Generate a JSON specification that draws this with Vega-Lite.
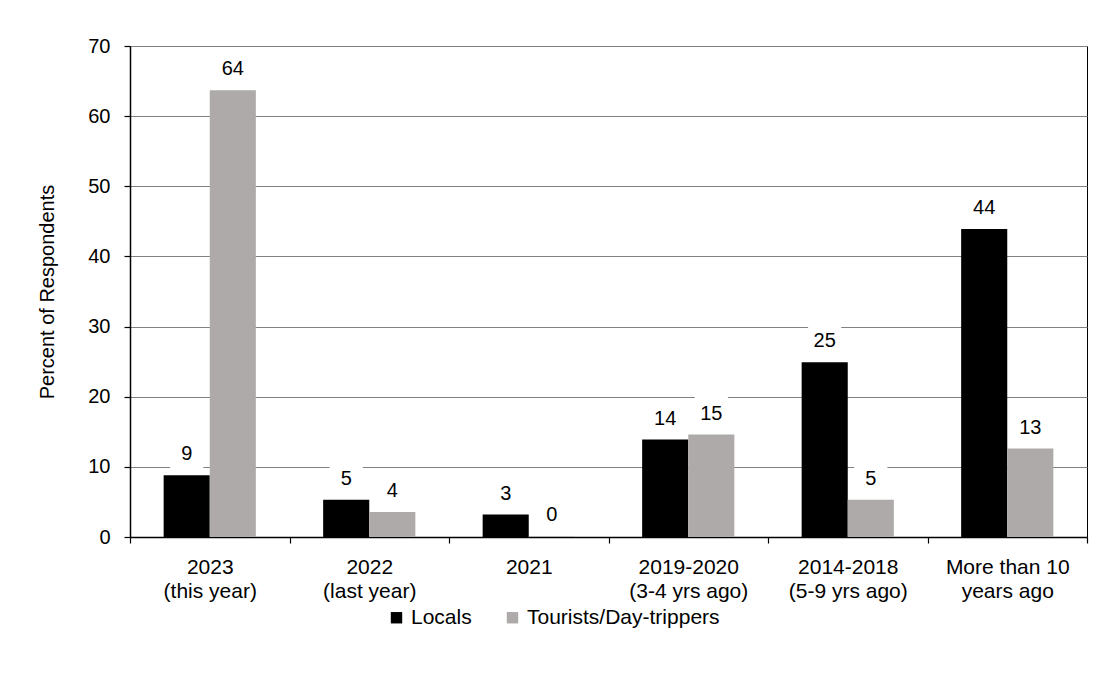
{
  "$schema": "https://vega.github.io/schema/vega-lite/v6.json",
  "autosize": {"type": "none"},
  "width": 957,
  "height": 491,
  "padding": {"left": 130, "top": 46, "right": 27, "bottom": 138},
  "background": "white",
  "config": {
    "font": "Liberation Sans",
    "view": {"stroke": "#000000", "strokeWidth": 1},
    "axis": {"labelColor": "#000000", "titleColor": "#000000", "domainColor": "#000000", "tickColor": "#000000", "domainWidth": 1.5, "tickWidth": 1.2}
  },
  "data": {
    "values": [
      {"period": "2023\n(this year)", "group": "Locals", "percent": 8.8},
      {"period": "2023\n(this year)", "group": "Tourists/Day-trippers", "percent": 63.7},
      {"period": "2022\n(last year)", "group": "Locals", "percent": 5.3},
      {"period": "2022\n(last year)", "group": "Tourists/Day-trippers", "percent": 3.55},
      {"period": "2021", "group": "Locals", "percent": 3.2},
      {"period": "2021", "group": "Tourists/Day-trippers", "percent": 0.1},
      {"period": "2019-2020\n(3-4 yrs ago)", "group": "Locals", "percent": 13.9},
      {"period": "2019-2020\n(3-4 yrs ago)", "group": "Tourists/Day-trippers", "percent": 14.6},
      {"period": "2014-2018\n(5-9 yrs ago)", "group": "Locals", "percent": 24.9},
      {"period": "2014-2018\n(5-9 yrs ago)", "group": "Tourists/Day-trippers", "percent": 5.3},
      {"period": "More than 10\nyears ago", "group": "Locals", "percent": 43.9},
      {"period": "More than 10\nyears ago", "group": "Tourists/Day-trippers", "percent": 12.6}
    ]
  },
  "encoding": {
    "x": {
      "field": "period",
      "type": "nominal",
      "sort": null,
      "scale": {"paddingInner": 0, "paddingOuter": 0},
      "axis": {
        "title": null,
        "labelAngle": 0,
        "tickBand": "extent",
        "labelExpr": "split(datum.label, '\\n')",
        "labelFontSize": 21,
        "labelLineHeight": 24,
        "labelPadding": 13,
        "labelBaseline": "top",
        "tickSize": 6,
        "grid": false
      }
    },
    "xOffset": {
      "field": "group",
      "type": "nominal",
      "sort": ["Locals", "Tourists/Day-trippers"],
      "scale": {"paddingInner": 0, "paddingOuter": 0.73}
    },
    "y": {
      "field": "percent",
      "type": "quantitative",
      "scale": {"domain": [0, 70], "nice": false},
      "axis": {
        "title": "Percent of Respondents",
        "titleFontSize": 20,
        "titleFontWeight": "normal",
        "titlePadding": 30,
        "labelFontSize": 20,
        "labelPadding": 14,
        "values": [0, 10, 20, 30, 40, 50, 60, 70],
        "tickSize": 6,
        "grid": true,
        "gridColor": "#808080",
        "gridWidth": 1
      }
    }
  },
  "layer": [
    {
      "mark": {"type": "bar"},
      "encoding": {
        "color": {
          "field": "group",
          "type": "nominal",
          "scale": {"domain": ["Locals", "Tourists/Day-trippers"], "range": ["#000000", "#AEAAAA"]},
          "legend": {
            "title": null,
            "orient": "none",
            "legendX": 256,
            "legendY": 561,
            "direction": "horizontal",
            "symbolType": "square",
            "symbolSize": 130,
            "symbolStrokeWidth": 0,
            "labelFontSize": 21,
            "labelLimit": 0,
            "labelOffset": 4,
            "columnPadding": 30
          }
        }
      }
    },
    {
      "mark": {"type": "point", "shape": "square", "filled": true, "color": "white", "opacity": 1, "strokeWidth": 0, "size": 1100, "yOffset": -21}
    },
    {
      "mark": {"type": "text", "dy": -21, "baseline": "middle", "align": "center", "fontSize": 20, "color": "#000000"},
      "encoding": {"text": {"field": "percent", "type": "quantitative", "format": ".0f"}}
    }
  ]
}
